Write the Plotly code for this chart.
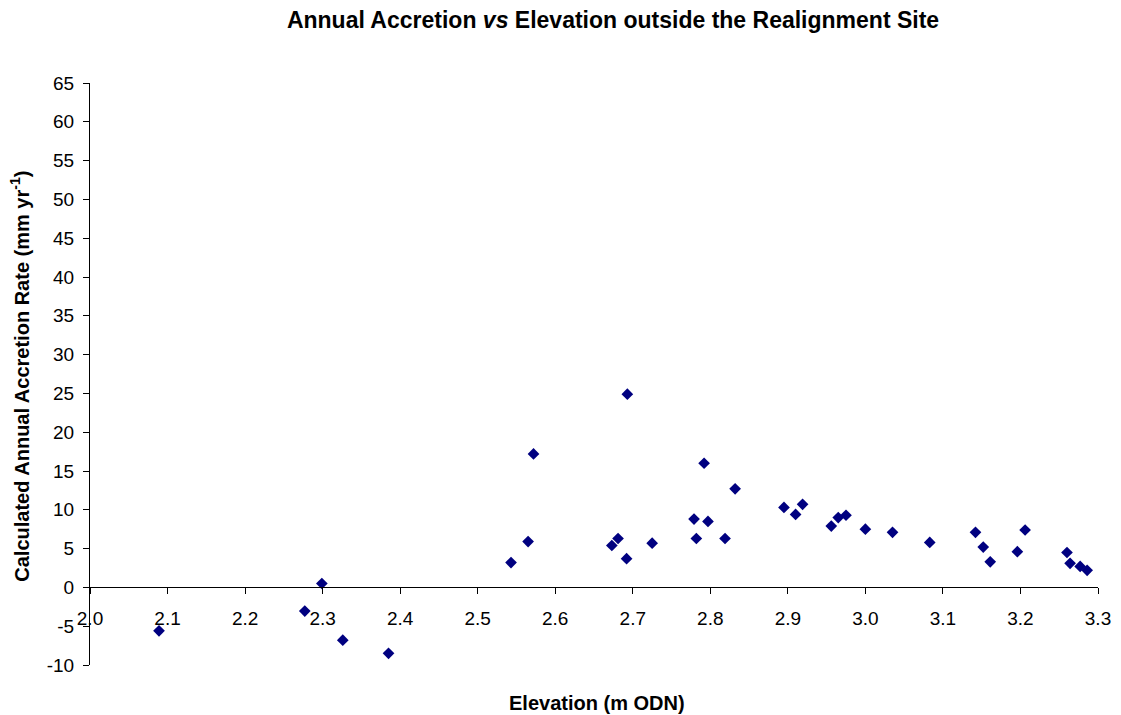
import plotly.graph_objects as go

elevation = [2.089, 2.277, 2.299, 2.326, 2.385, 2.543, 2.565, 2.572,
             2.693, 2.673, 2.681, 2.692, 2.725, 2.779, 2.782, 2.792, 2.797,
             2.819, 2.832, 2.895, 2.910, 2.919, 2.956, 2.965, 2.975, 3.000,
             3.035, 3.083, 3.142, 3.152, 3.161, 3.196, 3.206, 3.260, 3.264,
             3.277, 3.286]
accretion = [-5.6, -3.05, 0.5, -6.8, -8.5, 3.2, 5.9, 17.2,
             24.9, 5.4, 6.3, 3.7, 5.7, 8.8, 6.3, 16.0, 8.5,
             6.3, 12.7, 10.3, 9.4, 10.7, 7.9, 9.0, 9.3, 7.5,
             7.1, 5.8, 7.1, 5.2, 3.3, 4.6, 7.4, 4.5, 3.1,
             2.7, 2.2]

x_ticks = [2.0, 2.1, 2.2, 2.3, 2.4, 2.5, 2.6, 2.7, 2.8, 2.9, 3.0, 3.1, 3.2, 3.3]
x_labels = [f"{v:.1f}" for v in x_ticks]
y_ticks = list(range(-10, 70, 5))
y_labels = [str(v) for v in y_ticks]

FONT = "Arial, Liberation Sans, sans-serif"

fig = go.Figure()
fig.add_trace(go.Scatter(
    x=elevation, y=accretion, mode="markers",
    marker=dict(symbol="diamond", size=9, color="#000080", line=dict(width=0)),
    showlegend=False,
))

fig.update_layout(
    width=1113, height=707,
    paper_bgcolor="white", plot_bgcolor="white",
    margin=dict(l=81.5, r=23, t=74.7, b=50),
    font=dict(family=FONT, color="black", size=19),
    title=dict(
        text="<b>Annual Accretion <i>vs</i> Elevation outside the Realignment Site</b>",
        x=0.5436, xanchor="center", y=0.983, yanchor="middle",
        font=dict(family=FONT, size=23, color="black"),
    ),
    xaxis=dict(
        range=[2.0, 3.3], tickvals=x_ticks, ticktext=x_labels,
        showgrid=False, zeroline=False, showline=True, linecolor="black", linewidth=1,
        ticks="outside", ticklen=6, tickcolor="black",
        anchor="free", position=10/75, automargin=False,
        ticklabelstandoff=8,
        tickfont=dict(family=FONT, size=19, color="black"),
    ),
    yaxis=dict(
        range=[-10, 65], tickvals=y_ticks, ticktext=y_labels,
        showgrid=False, zeroline=False, showline=True, linecolor="black", linewidth=1,
        ticks="outside", ticklen=6, tickcolor="black", automargin=False,
        ticklabelstandoff=5,
        tickfont=dict(family=FONT, size=19, color="black"),
    ),
    annotations=[
        dict(text="<b>Elevation (m ODN)</b>", xref="paper", yref="paper",
             x=0.503, y=-0.0653, xanchor="center", yanchor="middle", showarrow=False,
             font=dict(family=FONT, size=20, color="black")),
        dict(text="<b>Calculated Annual Accretion Rate (mm yr<sup>-1</sup>)</b>",
             xref="paper", yref="paper", x=-0.0699, y=0.4963, textangle=-90,
             xanchor="center", yanchor="middle", showarrow=False,
             font=dict(family=FONT, size=20, color="black")),
    ],
)

fig.write_html("out.html")
